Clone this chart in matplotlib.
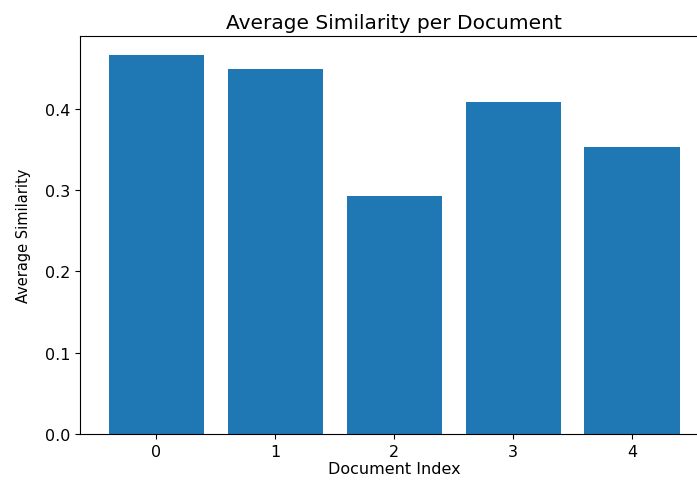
import numpy as np
import matplotlib
matplotlib.use('Agg')
import matplotlib.pyplot as plt

doc_index = [0, 1, 2, 3, 4]
avg_similarity = [0.466, 0.449, 0.293, 0.408, 0.353]

fig = plt.figure(figsize=(6.97, 4.81), dpi=100)
ax = fig.add_subplot(111)
ax.bar(doc_index, avg_similarity, color='#1f77b4')
ax.set_xticks(doc_index)
ax.tick_params(labelsize=11.5)
ax.set_title('Average Similarity per Document', fontsize=14.5)
ax.set_xlabel('Document Index', fontsize=11.5, labelpad=2)
ax.set_ylabel('Average Similarity', fontsize=10.5, labelpad=10)
# right spine sits just past the image edge in the reference
fig.subplots_adjust(left=0.115, right=1.016, top=0.923, bottom=0.096)
fig.savefig('out.png', dpi=100)
